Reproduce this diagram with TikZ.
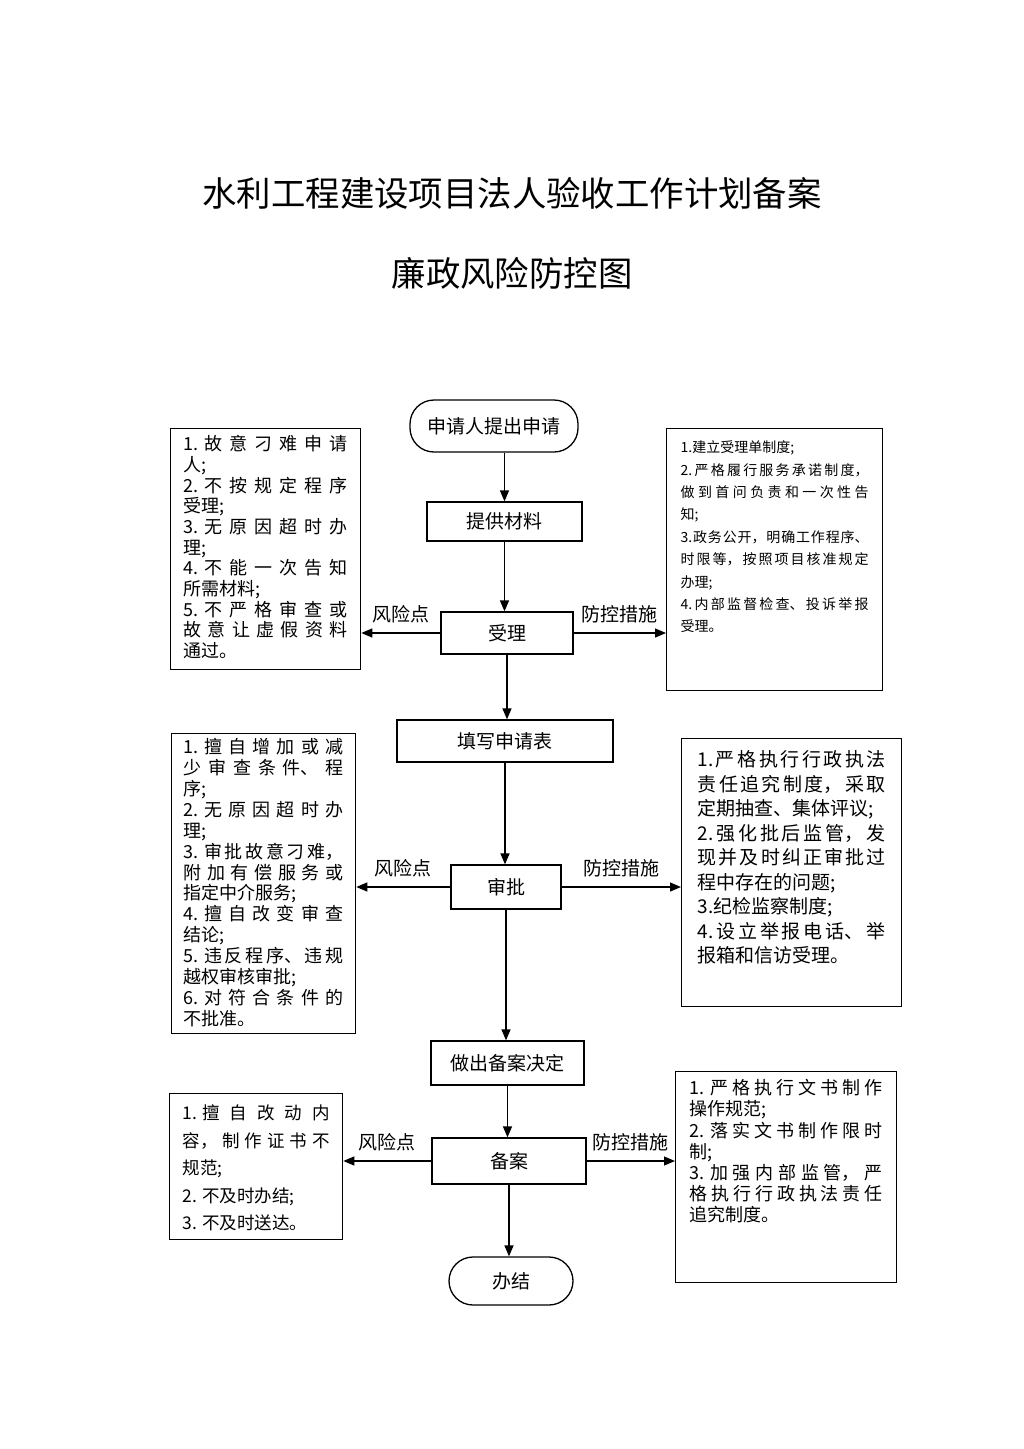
\documentclass[tikz,border=0pt]{standalone}
\usepackage{fontspec}
\setmainfont{Noto Sans CJK SC}
\usetikzlibrary{arrows.meta}
\XeTeXlinebreaklocale "zh"
\XeTeXlinebreakskip=0pt plus 1fil
\newcommand\fillpar{\parfillskip=0pt plus 1fill\relax}
\tikzset{
    titleText/.style={font=\fontsize{34.4}{40}\selectfont, inner sep=0pt},
    termBox/.style={rectangle, rounded corners=24pt, draw=black, line width=1.3pt, font=\fontsize{19}{22}\selectfont, inner sep=0pt},
    procBox/.style={rectangle, draw=black, line width=1.3pt, font=\fontsize{19}{22}\selectfont, inner sep=0pt},
    sideBox/.style={rectangle, draw=black, line width=1.3pt, anchor=north west, align=justify, inner xsep=13pt, inner ysep=3pt},
    labelText/.style={font=\fontsize{19}{22}\selectfont, inner sep=2pt},
    arrow/.style={line width=1.3pt, ->, >={Triangle[length=11pt,width=9pt]}}
}
\begin{document}
\begin{tikzpicture}[x=1pt, y=-1pt]
    \path[use as bounding box, fill=white] (0,0) rectangle (1024,1449);

    \node (title1) [titleText] at (512,193) {水利工程建设项目法人验收工作计划备案};
    \node (title2) [titleText] at (512,273) {廉政风险防控图};

    % main flow
    \node (apply) [termBox, minimum width=168pt, minimum height=52pt] at (494,426) {申请人提出申请};
    \node (mat) [procBox, minimum width=155pt, minimum height=39pt] at (504.5,521.5) {提供材料};
    \node (acc) [procBox, minimum width=132pt, minimum height=42pt] at (507,633) {受理};
    \node (form) [procBox, minimum width=216pt, minimum height=42pt] at (505,741) {填写申请表};
    \node (appr) [procBox, minimum width=110pt, minimum height=44pt] at (506,887) {审批};
    \node (dec) [procBox, minimum width=153pt, minimum height=44pt] at (507.5,1063) {做出备案决定};
    \node (rec) [procBox, minimum width=154pt, minimum height=46pt] at (509,1161) {备案};
    \node (done) [termBox, minimum width=124pt, minimum height=48pt] at (511,1281) {办结};

    % risk points
    \node (risk1) [sideBox, text width=164pt, text height=19pt, text depth=216pt, font=\fontsize{18}{20.7}\selectfont] at (170,428) {\fillpar 1. 故意刁难申请\linebreak
人;\par
2. 不按规定程序\linebreak
受理;\par
3. 无原因超时办\linebreak
理;\par
4. 不能一次告知\linebreak
所需材料;\par
5. 不严格审查或\linebreak
故意让虚假资料\linebreak
通过。\par};
    \node (risk2) [sideBox, inner xsep=12pt, text width=160pt, text height=17pt, text depth=277pt, font=\fontsize{18}{20.9}\selectfont] at (171,733) {\fillpar 1. 擅自增加或减\linebreak
少审查条件、程\linebreak
序;\par
2. 无原因超时办\linebreak
理;\par
3. 审批故意刁难，\linebreak
附加有偿服务或\linebreak
指定中介服务;\par
4. 擅自改变审查\linebreak
结论;\par
5. 违反程序、违规\linebreak
越权审核审批;\par
6. 对符合条件的\linebreak
不批准。\par};
    \node (risk3) [sideBox, text width=147pt, text height=23pt, text depth=117pt, font=\fontsize{17.5}{27.5}\selectfont] at (169,1093) {\fillpar 1. 擅自改动内\linebreak
容，制作证书不\linebreak
规范;\par
2. 不及时办结;\par
3. 不及时送达。\par};

    % control measures
    \node (ctrl1) [sideBox, inner xsep=14pt, text width=188pt, text height=21pt, text depth=235pt, font=\fontsize{14}{22.4}\selectfont] at (666,428) {\fillpar 1.建立受理单制度;\par
2.严格履行服务承诺制度，\linebreak
做到首问负责和一次性告\linebreak
知;\par
3.政务公开，明确工作程序、\linebreak
时限等，按照项目核准规定\linebreak
办理;\par
4.内部监督检查、投诉举报\linebreak
受理。\par};
    \node (ctrl2) [sideBox, inner xsep=16pt, text width=188pt, text height=25pt, text depth=237pt, font=\fontsize{19}{24.5}\selectfont] at (681,738) {\fillpar 1.严格执行行政执法\linebreak
责任追究制度，采取\linebreak
定期抽查、集体评议;\par
2.强化批后监管，发\linebreak
现并及时纠正审批过\linebreak
程中存在的问题;\par
3.纪检监察制度;\par
4.设立举报电话、举\linebreak
报箱和信访受理。\par};
    \node (ctrl3) [sideBox, inner xsep=14pt, text width=193pt, text height=20pt, text depth=185pt, font=\fontsize{18}{21.2}\selectfont] at (675,1071) {\fillpar 1. 严格执行文书制作\linebreak
操作规范;\par
2. 落实文书制作限时\linebreak
制;\par
3. 加强内部监管，严\linebreak
格执行行政执法责任\linebreak
追究制度。\par};

    \draw[arrow] (apply.south -| mat) -- (mat);
    \draw[arrow] (mat) -- (mat |- acc.north);
    \draw[arrow] (acc) -- (acc |- form.north);
    \draw[arrow] (form) -- (form |- appr.north);
    \draw[arrow] (appr) -- (appr |- dec.north);
    \draw[arrow] (dec) -- (dec |- rec.north);
    \draw[arrow] (rec) -- (rec |- done.north);

    \draw[arrow] (acc) -- (acc -| risk1.east) node[labelText, midway, above=7pt] {风险点};
    \draw[arrow] (acc) -- (acc -| ctrl1.west) node[labelText, midway, above=7pt] {防控措施};
    \draw[arrow] (appr) -- (appr -| risk2.east) node[labelText, midway, above=7pt] {风险点};
    \draw[arrow] (appr) -- (appr -| ctrl2.west) node[labelText, midway, above=7pt] {防控措施};
    \draw[arrow] (rec) -- (rec -| risk3.east) node[labelText, midway, above=7pt] {风险点};
    \draw[arrow] (rec) -- (rec -| ctrl3.west) node[labelText, midway, above=7pt] {防控措施};

\end{tikzpicture}
\end{document}
